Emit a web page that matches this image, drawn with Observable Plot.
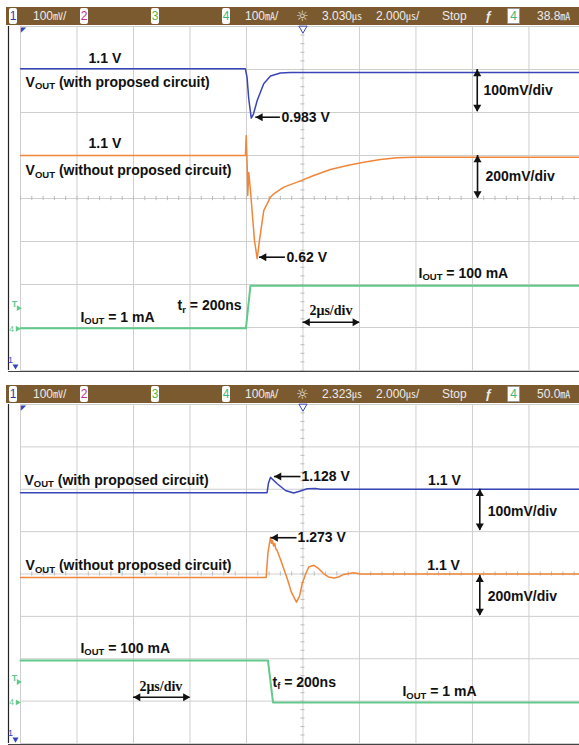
<!DOCTYPE html>
<html><head><meta charset="utf-8">
<script src="https://cdn.jsdelivr.net/npm/d3@7"></script>
<script src="https://cdn.jsdelivr.net/npm/@observablehq/plot@0.6"></script>
<style>
body{margin:0;background:#fff;}
#wrap{position:relative;width:579px;overflow:hidden;}
.bar{position:relative;margin-left:6px;width:573px;height:18px;background:#7b5a2f;font-family:"Liberation Sans",Arial,sans-serif;font-size:12px;color:#ececec;}
.bar > span{position:absolute;top:0;line-height:18px;white-space:nowrap;}
.bar > span.box{top:1px;height:16px;line-height:16px;width:8px;background:#fff;border-radius:2px;text-align:center;font-size:12px;}
.bar > span.box4{top:1px;height:14px;line-height:14px;width:11px;background:#fff;border:1px solid #999;border-radius:1px;text-align:center;font-size:12px;color:#3cb878;}
.u{font-family:"Noto Sans CJK JP","Noto Sans CJK SC",sans-serif;font-size:10px;}
#p1 svg,#p2 svg{display:block;}
</style></head>
<body><div id="wrap">
<div style="height:7px"></div>
<div class="bar" id="bar1"></div>
<div id="p1"></div>
<div style="height:12px"></div>
<div class="bar" id="bar2"></div>
<div id="p2"></div>
</div>
<script>
// ---------------- DATA ----------------
// time in µs relative to screen centre (2 µs/div); voltages in V; currents in mA
const topBlueT = [-10, -2.04, -1.98, -1.92, -1.83, -1.75, -1.62, -1.39, -1.15, -0.8, -0.44, 9.79];
const topBlueV = [1.1, 1.1, 1.08, 1.03, 0.985, 0.995, 1.026, 1.065, 1.083, 1.09, 1.091, 1.091];
const topOrangeT = [-10, -2.035, -2.01, -1.975, -1.954, -1.919, -1.858, -1.788, -1.717, -1.621, -1.54, -1.388, -1.15, -1.034, -0.68, -0.205, 0.382, 0.973, 1.565, 2.152, 2.743, 3.335, 3.922, 9.79];
const topOrangeV = [1.1, 1.1, 1.193, 1.053, 0.914, 1.021, 0.937, 0.821, 0.705, 0.62, 0.705, 0.844, 0.906, 0.922, 0.953, 0.976, 1.007, 1.035, 1.053, 1.069, 1.081, 1.089, 1.092, 1.092];
const topGreenT = [-10, -2.02, -1.86, 9.79];
const topGreenI = [1, 1, 100, 100];

const botBlueT = [-10, -1.27, -1.22, -1.15, -0.91, -0.62, -0.33, -0.09, 0.15, 0.44, 0.62, 9.79];
const botBlueV = [1.092, 1.092, 1.115, 1.128, 1.113, 1.097, 1.091, 1.096, 1.101, 1.102, 1.1, 1.1];
const botOrangeT = [-10, -1.303, -1.24, -1.15, -1.11, -1.08, -1.04, -1.0, -0.96, -0.913, -0.761, -0.559, -0.407, -0.23, -0.124, -0.028, 0.088, 0.205, 0.382, 0.559, 0.736, 0.903, 1.09, 1.257, 1.444, 1.798, 2.035, 9.79];
const botOrangeV = [1.084, 1.084, 1.2, 1.273, 1.245, 1.258, 1.232, 1.244, 1.218, 1.211, 1.155, 1.079, 1.013, 0.967, 0.994, 1.054, 1.098, 1.133, 1.141, 1.125, 1.101, 1.086, 1.081, 1.086, 1.098, 1.106, 1.1, 1.1];
const botGreenT = [-10, -1.24, -1.06, 9.79];
const botGreenI = [100, 100, 1, 1];

// channel settings: [units per div, reference value, division of reference]
const topCh = {blue: [0.1, 1.1, 3.02], orange: [0.2, 1.1, 1.0], green: [100, 0, -3.03]};
const botCh = {blue: [0.1, 1.1, 2.0], orange: [0.2, 1.1, 0.0], green: [100, 0, -3.04]};

// annotations
const topNotes = [
  ["1.1 V", -7.59, 3.26], ["V_{OUT} (with proposed circuit)", -9.82, 2.70],
  ["1.1 V", -7.59, 1.27], ["V_{OUT} (without proposed circuit)", -9.82, 0.65],
  ["0.983 V", -0.76, 1.89], ["100mV/div", 6.39, 2.50], ["200mV/div", 6.46, 0.50],
  ["0.62 V", -0.58, -1.365], ["I_{OUT} = 100 mA", 4.09, -1.74],
  ["t_{r} = 200ns", -4.44, -2.49], ["I_{OUT} = 1 mA", -7.88, -2.76]
];
const topSerif = [["2μs/div", 0.23, -2.60]];
const botNotes = [
  ["V_{OUT} (with proposed circuit)", -9.86, 2.21], ["V_{OUT} (without proposed circuit)", -9.82, 0.20],
  ["1.128 V", -0.05, 2.30], ["1.1 V", 4.43, 2.21], ["100mV/div", 6.54, 1.48],
  ["1.273 V", -0.19, 0.856], ["1.1 V", 4.40, 0.20], ["200mV/div", 6.54, -0.52],
  ["I_{OUT} = 100 mA", -7.88, -1.755], ["t_{f} = 200ns", -1.08, -2.55], ["I_{OUT} = 1 mA", 3.52, -2.785]
];
const botSerif = [["2μs/div", -5.79, -2.65]];

// arrows: left-pointing [tip, tail, y]; horizontal double [x1, x2, y]; vertical double [x, yTop, yBottom]
const topLeftArrows = [[-1.67, -0.80, 1.89], [-1.54, -0.62, -1.365]];
const topHArrows = [[0.0, 2.0, -2.877]];
const topVArrows = [[6.17, 3.0, 2.02], [6.18, 1.0, 0.01]];
const botLeftArrows = [[-1.01, -0.07, 2.30], [-1.13, -0.21, 0.856]];
const botHArrows = [[-6.0, -4.0, -2.91]];
const botVArrows = [[6.26, 2.0, 1.03], [6.26, -0.03, -0.98]];

// status bar
const chanDigits = ["1", "2", "3", "4"];
const chanColors = ["#2b3aa8", "#b8309a", "#55b848", "#3cb878"];
const barTop = ["100㎷/", "100㎃/", "3.030㎲", "2.000㎲/", "Stop", "38.8㎃"];
const barBot = ["100㎷/", "100㎃/", "2.323㎲", "2.000㎲/", "Stop", "50.0㎃"];

// ---------------- DRAW ----------------
const BAR_X0 = 6;
const boxX = [9, 80, 151, 222];
const textX = [33, 245, 322, 376, 442, 537];
function buildBar(id, texts) {
  const bar = d3.select(id);
  chanDigits.forEach((d, i) => bar.append("span").attr("class", "box")
    .style("left", (boxX[i] - BAR_X0) + "px").style("color", chanColors[i]).text(d));
  texts.forEach((t, i) => bar.append("span").style("left", (textX[i] - BAR_X0) + "px")
    .html(t.replace(/([\u3380-\u33FF])/g, '<span class="u">$1</span>')));
  bar.append("span").style("left", (296 - BAR_X0) + "px").style("font-size", "14px").style("font-family", "DejaVu Sans").text("☼");
  bar.append("span").style("left", (485 - BAR_X0) + "px").style("font-size", "13px").style("font-weight", "bold").text("ƒ");
  bar.append("span").attr("class", "box4").style("left", (507 - BAR_X0) + "px").text("4");
}
buildBar("#bar1", barTop);
buildBar("#bar2", barBot);

const X_DOMAIN = [-10, 9.79];
const gridX = d3.range(-10, 9.8, 2);
const gridY = d3.range(-4, 4.01, 1);
const minorX = d3.range(-10, 9.8, 0.4);
const minorY = d3.range(-4, 4.01, 0.2);
const FRAME_X = -10.425;
const GRID = "#cfcfcf";
const BLUE = "#3845b8", ORANGE = "#f0863a", GREEN = "#62c98a";
const SANS = "Liberation Sans, Arial, sans-serif";

function trace(T, V, ch) {
  const [per, ref, at] = ch;
  return T.map((t, i) => ({t, d: at + (V[i] - ref) / per}));
}
const toNote = a => a.map(([text, x, y]) => ({text, x, y}));

function panel(opts) {
  const {height, marginBottom, series, notes, serif, leftArrows, hArrows, vArrows} = opts;
  const H = hArrows.map(([x1, x2, y]) => ({x1, x2, y}));
  const L = leftArrows.map(([x1, x2, y]) => ({x1, x2, y}));
  const Vv = vArrows.map(([x, y1, y2]) => ({x, y1, y2}));
  const headStyle = {symbol: "triangle", r: 3, fill: "#111", stroke: "none"};
  const svg = Plot.plot({
    width: 579, height, marginLeft: 20, marginRight: 0, marginTop: 1, marginBottom,
    style: {background: "transparent", overflow: "visible"},
    x: {domain: X_DOMAIN, axis: null},
    y: {domain: [-4, 4], axis: null},
    marks: [
      Plot.ruleX(gridX, {stroke: GRID, strokeWidth: 1}),
      Plot.ruleY(gridY, {stroke: GRID, strokeWidth: 1}),
      Plot.ruleX(minorX, {y1: -0.05, y2: 0.05, stroke: "#bbb"}),
      Plot.ruleY(minorY, {x1: -0.07, x2: 0.07, stroke: "#bbb"}),
      Plot.ruleY([-4], {x1: FRAME_X, x2: 9.79, stroke: "#444", strokeWidth: 1, dy: 1}),
      Plot.ruleX([FRAME_X], {y1: -4, y2: 4, stroke: "#222", strokeWidth: 1.2}),
      // channel markers in left margin
      Plot.text(["T"], {x: -10, y: -2.45, dx: -6, fill: GREEN, fontSize: 9, fontWeight: "bold", fontFamily: SANS}),
      Plot.dot([0], {x: -10, y: -2.55, dx: -2, symbol: "triangle", rotate: 90, r: 2.2, fill: GREEN}),
      Plot.text(["4"], {x: -10, y: -3.03, dx: -9, fill: GREEN, fontSize: 9, fontFamily: SANS}),
      Plot.dot([0], {x: -10, y: -3.03, dx: -3, symbol: "triangle", rotate: 90, r: 2.2, fill: GREEN}),
      Plot.text(["1"], {x: -10, y: -3.75, dx: -10, fill: BLUE, fontSize: 9, fontFamily: SANS}),
      Plot.dot([0], {x: -10, y: -3.9, dx: -5, symbol: "triangle", rotate: 180, r: 2.2, fill: BLUE}),
      Plot.text(["◤"], {x: -10, y: 4, dx: 3, dy: 3, fill: BLUE, fontSize: 7, fontFamily: "DejaVu Sans"}),
      Plot.dot([0], {x: 0, y: 4, dy: 2, symbol: "triangle", rotate: 180, r: 3, fill: "#fff", stroke: BLUE, strokeWidth: 1}),
      // traces
      Plot.line(series.green, {x: "t", y: "d", stroke: GREEN, strokeWidth: 2}),
      Plot.line(series.orange, {x: "t", y: "d", stroke: ORANGE, strokeWidth: 1.5}),
      Plot.line(series.blue, {x: "t", y: "d", stroke: BLUE, strokeWidth: 1.5}),
      // arrows
      Plot.ruleY(L, {y: "y", x1: "x1", x2: "x2", stroke: "#111", strokeWidth: 1.6}),
      Plot.dot(L, {x: "x1", y: "y", rotate: -90, dx: 4.5, ...headStyle}),
      Plot.ruleY(H, {y: "y", x1: "x1", x2: "x2", stroke: "#111", strokeWidth: 1.6}),
      Plot.dot(H, {x: "x1", y: "y", rotate: -90, dx: 4.5, ...headStyle}),
      Plot.dot(H, {x: "x2", y: "y", rotate: 90, dx: -4.5, ...headStyle}),
      Plot.ruleX(Vv, {x: "x", y1: "y1", y2: "y2", stroke: "#111", strokeWidth: 1.6}),
      Plot.dot(Vv, {x: "x", y: "y1", rotate: 0, dy: 4.5, ...headStyle}),
      Plot.dot(Vv, {x: "x", y: "y2", rotate: 180, dy: -4.5, ...headStyle}),
      // labels
      Plot.text(toNote(notes), {x: "x", y: "y", text: "text", textAnchor: "start", fontSize: 14, fontWeight: "bold", fontFamily: SANS, fill: "#111"}),
      Plot.text(toNote(serif), {x: "x", y: "y", text: "text", textAnchor: "start", fontSize: 14, fontWeight: "bold", fontFamily: "Liberation Serif, Times New Roman, serif", fill: "#111"})
    ]
  });
  applySubscripts(svg);
  return svg;
}

function applySubscripts(svg) {
  svg.querySelectorAll("text").forEach(t => {
    const s = t.textContent;
    if (!s.includes("_{")) return;
    while (t.firstChild) t.removeChild(t.firstChild);
    let shifted = false;
    s.split(/(_\{[^}]*\})/).forEach(p => {
      if (!p) return;
      const ts = document.createElementNS("http://www.w3.org/2000/svg", "tspan");
      if (p.startsWith("_{")) {
        ts.textContent = p.slice(2, -1);
        ts.setAttribute("font-size", "9.5");
        ts.setAttribute("dy", "2.5");
        shifted = true;
      } else {
        ts.textContent = p;
        if (shifted) { ts.setAttribute("dy", "-2.5"); shifted = false; }
      }
      t.appendChild(ts);
    });
  });
}

document.getElementById("p1").appendChild(panel({
  height: 348, marginBottom: 3,
  series: {blue: trace(topBlueT, topBlueV, topCh.blue), orange: trace(topOrangeT, topOrangeV, topCh.orange), green: trace(topGreenT, topGreenI, topCh.green)},
  notes: topNotes, serif: topSerif, leftArrows: topLeftArrows, hArrows: topHArrows, vArrows: topVArrows
}));
document.getElementById("p2").appendChild(panel({
  height: 342, marginBottom: 2,
  series: {blue: trace(botBlueT, botBlueV, botCh.blue), orange: trace(botOrangeT, botOrangeV, botCh.orange), green: trace(botGreenT, botGreenI, botCh.green)},
  notes: botNotes, serif: botSerif, leftArrows: botLeftArrows, hArrows: botHArrows, vArrows: botVArrows
}));
</script></body></html>
